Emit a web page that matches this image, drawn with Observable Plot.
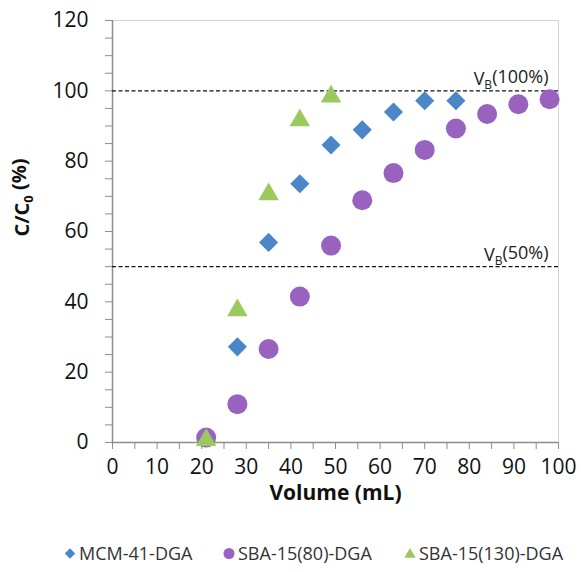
<!DOCTYPE html>
<html>
<head>
<meta charset="utf-8">
<script src="https://cdn.jsdelivr.net/npm/d3@7"></script>
<script src="https://cdn.jsdelivr.net/npm/@observablehq/plot@0.6"></script>
<style>
  html, body { margin: 0; padding: 0; background: #fff; }
  body { width: 582px; height: 572px; overflow: hidden; font-family: "Open Sans", sans-serif; }
  #legend { position: relative; height: 52px; font-size: 18px; color: #333; }
  #legend .item { position: absolute; top: 20px; display: flex; align-items: center; white-space: nowrap; height: 26px; }
  #legend svg { margin-right: 2px; }
</style>
</head>
<body>
<div id="chart"></div>
<div id="legend"></div>
<script>
// Series names
const seriesNames = ["MCM-41-DGA", "SBA-15(80)-DGA", "SBA-15(130)-DGA"];
const seriesColors = ["#4a86c8", "#9a62bf", "#9bc95e"];
const seriesSymbols = ["diamond2", "circle", "triangle"];

// MCM-41-DGA
const mcmVolume = [28, 35, 42, 49, 56, 63, 70, 77];
const mcmRatio  = [27.2, 56.9, 73.6, 84.6, 88.9, 94.0, 97.2, 97.2];

// SBA-15(80)-DGA
const sba80Volume = [21, 28, 35, 42, 49, 56, 63, 70, 77, 84, 91, 98];
const sba80Ratio  = [1.4, 10.9, 26.6, 41.5, 56.0, 68.9, 76.6, 83.2, 89.3, 93.4, 96.2, 97.6];

// SBA-15(130)-DGA
const sba130Volume = [21, 28, 35, 42, 49];
const sba130Ratio  = [1.5, 38.4, 71.4, 92.4, 99.2];

// Reference lines
const refValues = [100, 50];
const refLabels = ["VB(100%)", "VB(50%)"];

// Axis ticks
const xTicks = d3.range(0, 101, 5);
const yTicks = d3.range(0, 121, 5);

const mcm = mcmVolume.map((v, i) => ({v, c: mcmRatio[i]}));
const sba80 = sba80Volume.map((v, i) => ({v, c: sba80Ratio[i]}));
const sba130 = sba130Volume.map((v, i) => ({v, c: sba130Ratio[i]}));
const refs = refValues.map((y, i) => ({y, label: refLabels[i]}));

const axisColor = "#8c8c8c";

const chart = Plot.plot({
  width: 582,
  height: 520,
  marginLeft: 112,
  marginRight: 24,
  marginTop: 20,
  marginBottom: 78,
  style: {fontFamily: "Open Sans, sans-serif", background: "#fff", overflow: "visible"},
  x: {domain: [0, 100]},
  y: {domain: [0, 120]},
  marks: [
    Plot.frame({stroke: "#d4d4d4"}),
    Plot.ruleY([0], {stroke: axisColor, strokeWidth: 1.5}),
    Plot.ruleX([0], {stroke: axisColor, strokeWidth: 1.5}),
    Plot.axisX({
      ticks: xTicks,
      tickFormat: d => d % 10 === 0 ? String(d) : "",
      tickSize: 7,
      tickPadding: 10,
      stroke: axisColor,
      fill: "#111",
      fontSize: 21,
      label: null
    }),
    Plot.axisY({
      ticks: yTicks,
      tickFormat: d => d % 20 === 0 ? String(d) : "",
      tickSize: 7,
      tickPadding: 17,
      stroke: axisColor,
      fill: "#111",
      fontSize: 21,
      label: null
    }),
    Plot.ruleY(refs, {y: "y", stroke: "#111", strokeWidth: 1.2, strokeDasharray: "4,2.5"}),
    Plot.text(refs, {x: 100, y: "y", text: "label", textAnchor: "end", lineAnchor: "bottom", dx: -10, dy: -6, fontSize: 18, fill: "#222"}),
    Plot.dot(mcm, {x: "v", y: "c", symbol: () => seriesSymbols[0], r: 8.6, fill: seriesColors[0], stroke: "none"}),
    Plot.dot(sba80, {x: "v", y: "c", symbol: () => seriesSymbols[1], r: 10, fill: seriesColors[1], stroke: "none"}),
    Plot.dot(sba130, {x: "v", y: "c", symbol: () => seriesSymbols[2], r: 7.6, dy: 2.9, fill: seriesColors[2], stroke: "none"}),
    Plot.text(["Volume (mL)"], {frameAnchor: "bottom", dy: 51, lineAnchor: "middle", fontSize: 21, fontWeight: "bold", fill: "#111"}),
    Plot.text(["C/C0 (%)"], {frameAnchor: "left", dx: -90, dy: 5, rotate: -90, lineAnchor: "middle", fontSize: 20, fontWeight: "bold", fill: "#111"})
  ]
});
document.getElementById("chart").appendChild(chart);

// Add subscripts to the texts
d3.select(chart).selectAll("text").each(function() {
  const t = this.textContent;
  const sel = d3.select(this);
  if (t === "C/C0 (%)") {
    sel.text(null);
    sel.append("tspan").text("C/C");
    sel.append("tspan").attr("font-size", 13).attr("dy", "0.35em").text("0");
    sel.append("tspan").attr("dy", "-0.35em").text(" (%)");
  } else if (t.startsWith("VB(")) {
    sel.text(null);
    sel.append("tspan").text("V");
    sel.append("tspan").attr("font-size", 12).attr("dy", "0.35em").text("B");
    sel.append("tspan").attr("dy", "-0.35em").text(t.slice(2));
  }
});

// Legend
const legend = d3.select("#legend");
const legendLeft = [63, 222, 403];
const legendSizes = [8.6, 10, 7.6];
const legendTypes = [d3.symbolDiamond2, d3.symbolCircle, d3.symbolTriangle];
seriesNames.forEach((name, i) => {
  const item = legend.append("div").attr("class", "item").style("left", legendLeft[i] + "px");
  const s = item.append("svg").attr("width", 14).attr("height", 14);
  const path = d3.symbol(legendTypes[i], Math.PI * (legendSizes[i] * 0.55) ** 2)();
  s.append("path").attr("transform", i === 2 ? "translate(7,8.5)" : "translate(7,7.5)").attr("d", path).attr("fill", seriesColors[i]);
  item.append("span").text(name);
});
</script>
</body>
</html>
